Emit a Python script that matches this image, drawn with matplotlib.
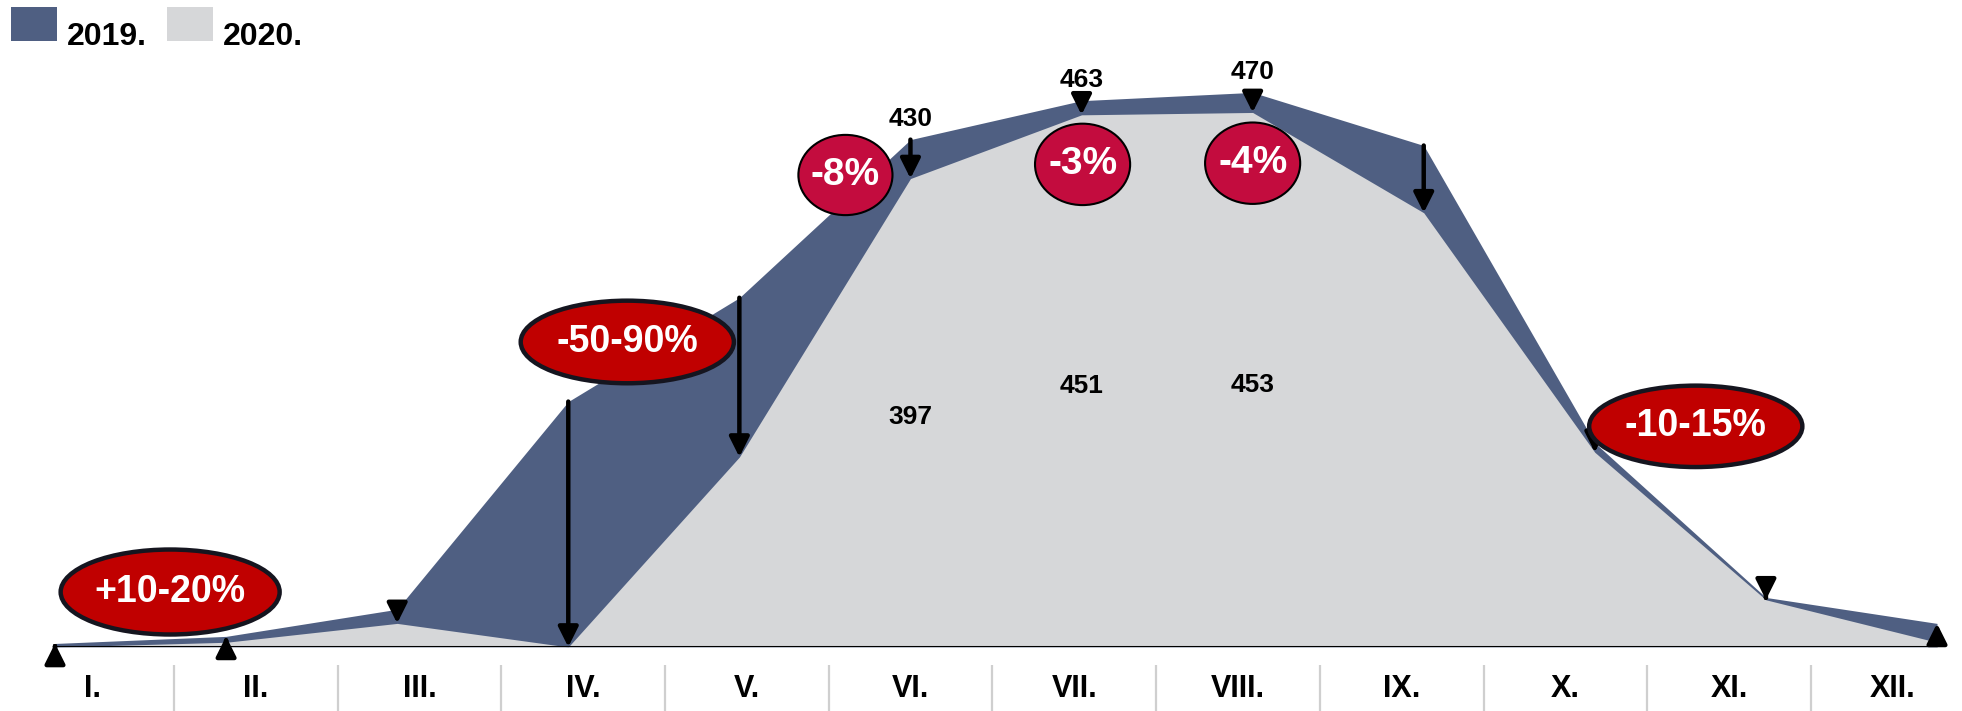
import matplotlib
matplotlib.use('Agg')
from matplotlib import pyplot as plt
from matplotlib.patches import Ellipse, Rectangle

plt.rcParams['font.family'] = ['Liberation Sans', 'DejaVu Sans']
plt.rcParams['font.weight'] = 'bold'

months = ['I.', 'II.', 'III.', 'IV.', 'V.', 'VI.', 'VII.', 'VIII.', 'IX.', 'X.', 'XI.', 'XII.']
sales_2019 = [3, 9, 32, 208, 296, 430, 463, 470, 425, 173, 42, 20]
sales_2020 = [0, 4, 20, 0, 161, 397, 451, 453, 368, 165, 40, 4]
labelled = [5, 6, 7]
arrow_up = [0, 1, 11]

# callouts: text, x (month index), y (value), width (months), height (value), style
callouts = [
    ('+10-20%', 0.673, 46.6, 1.28, 72, 'big'),
    ('-50-90%', 3.345, 258.5, 1.246, 70, 'big'),
    ('-8%', 4.62, 400, 0.55, 68, 'small'),
    ('-3%', 6.006, 409, 0.556, 69, 'small'),
    ('-4%', 7.0, 410, 0.556, 69, 'small'),
    ('-10-15%', 9.59, 187, 1.246, 69, 'big'),
]

dark = '#4F5F82'
light = '#D6D7D9'

W, H = 1962, 711
fig = plt.figure(figsize=(W / 100, H / 100), dpi=100)

ax = fig.add_axes([55 / W, 64 / H, 1882 / W, 647 / H])
x = list(range(len(months)))
ax.fill_between(x, sales_2019, color=dark, lw=0, zorder=1)
ax.fill_between(x, sales_2020, color=light, lw=0, zorder=2)
ax.axhline(0, color='black', lw=2.2, zorder=3)
ax.set_xlim(0, 11)
ax.set_ylim(0, 647 / 1.18)
ax.axis('off')

for i in x:
    if i in arrow_up:
        start, end = sales_2020[i], sales_2019[i]
    else:
        start, end = sales_2019[i], sales_2020[i]
    ax.annotate('', xy=(i, end), xytext=(i, start),
                arrowprops=dict(arrowstyle='-|>,head_length=12,head_width=6',
                                mutation_scale=1, color='black', lw=3.2,
                                shrinkA=0, shrinkB=0),
                annotation_clip=False, zorder=5)

for i in labelled:
    ax.annotate(str(sales_2019[i]), (i, sales_2019[i]), xytext=(0, 15),
                textcoords='offset points', ha='center', va='center',
                fontsize=19, fontweight='bold', zorder=6)
    ax.text(i, sales_2020[i] * 0.49, str(sales_2020[i]), ha='center', va='center',
            fontsize=19, fontweight='bold', zorder=6)

for text, cx, cy, w, h, style in callouts:
    if style == 'big':
        e = Ellipse((cx, cy), w, h, facecolor='#C00000', edgecolor='#15151F', lw=3.2,
                    zorder=7, clip_on=False)
        fs = 27
    else:
        e = Ellipse((cx, cy), w, h, facecolor='#C30C3E', edgecolor='black', lw=1.5,
                    zorder=7, clip_on=False)
        fs = 28
    ax.add_patch(e)
    ax.text(cx, cy, text, ha='center', va='center', color='white', fontsize=fs,
            fontweight='bold', zorder=8)

# month labels strip
lab = fig.add_axes([10.3 / W, 0, 1964.4 / W, 46 / H])
lab.set_xlim(0, 12)
lab.set_ylim(0, 46)
lab.axis('off')
for i, m in enumerate(months):
    lab.text(i + 0.5, 22, m, ha='center', va='center', fontsize=22, fontweight='bold')
for k in range(1, 12):
    lab.axvline(k, color='#CFCFCF', lw=1.6)

# legend
fig.patches.append(Rectangle((11 / W, 1 - 41 / H), 46 / W, 34 / H, transform=fig.transFigure,
                             facecolor=dark, edgecolor='none'))
fig.text(67 / W, 1 - 45 / H, '2019.', fontsize=23, fontweight='bold', va='baseline')
fig.patches.append(Rectangle((167 / W, 1 - 41 / H), 46 / W, 34 / H, transform=fig.transFigure,
                             facecolor=light, edgecolor='none'))
fig.text(223 / W, 1 - 45 / H, '2020.', fontsize=23, fontweight='bold', va='baseline')

fig.savefig('out.png', dpi=100)
